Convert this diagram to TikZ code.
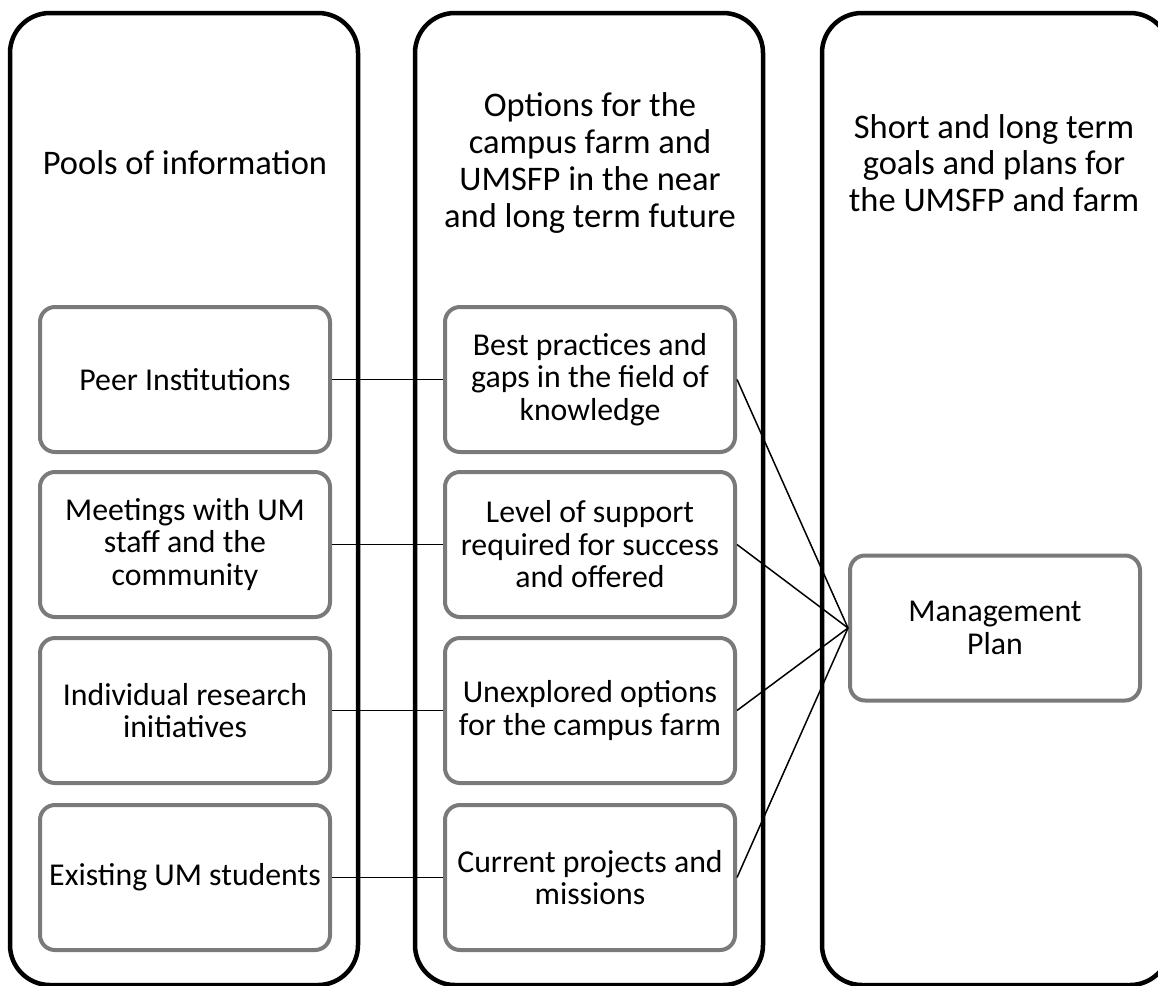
\documentclass[tikz,border=0pt]{standalone}
\usepackage{fontspec}
\setmainfont{Carlito}
\begin{document}
\begin{tikzpicture}[x=1pt,y=-1pt,
  outerbox/.style={draw=black,line width=4.5pt,rounded corners=40pt,minimum width=348pt,minimum height=972pt,inner sep=0pt},
  header/.style={align=center,font=\fontsize{34.5}{36.8}\selectfont},
  innerbox/.style={draw=black!52,line width=4pt,rounded corners=15pt,fill=white,minimum width=290pt,minimum height=145pt,inner sep=0pt,align=center,font=\fontsize{31.8}{32.5}\selectfont},
  conn/.style={draw=black,line width=1.5pt}]
\useasboundingbox (0,0) rectangle (1158,985);
\clip (0,0) rectangle (1158,985);
% columns
\node[outerbox] (colA) at (184,499) {};
\node[outerbox] (colB) at (589,499) {};
\node[outerbox] (colC) at (996,499) {};
\node[header] (hA) at (185,163) {Pools of information};
\node[header] (hB) at (590,163) {Options for the\\campus farm and\\UMSFP in the near\\and long term future};
\node[header] (hC) at (994,163) {Short and long term\\goals and plans for\\the UMSFP and farm};
% left boxes
\node[innerbox] (a1) at (185,379.5) {Peer Institutions};
\node[innerbox] (a2) at (185,544.5) {Meetings with UM\\staff and the\\community};
\node[innerbox] (a3) at (185,710.5) {Individual research\\initiatives};
\node[innerbox] (a4) at (185,877.5) {Existing UM students};
% middle boxes
\node[innerbox] (b1) at (590,379.5) {Best practices and\\gaps in the field of\\knowledge};
\node[innerbox] (b2) at (590,544.5) {Level of support\\required for success\\and offered};
\node[innerbox] (b3) at (590,710.5) {Unexplored options\\for the campus farm};
\node[innerbox] (b4) at (590,877.5) {Current projects and\\missions};
% management plan
\node[innerbox] (mp) at (995,628) {Management\\Plan};
% connectors
\draw[conn] (a1.east) -- (b1.west);
\draw[conn] (a2.east) -- (b2.west);
\draw[conn] (a3.east) -- (b3.west);
\draw[conn] (a4.east) -- (b4.west);
\draw[conn] (b1.east) -- (mp.west);
\draw[conn] (b2.east) -- (mp.west);
\draw[conn] (b3.east) -- (mp.west);
\draw[conn] (b4.east) -- (mp.west);
\end{tikzpicture}
\end{document}
